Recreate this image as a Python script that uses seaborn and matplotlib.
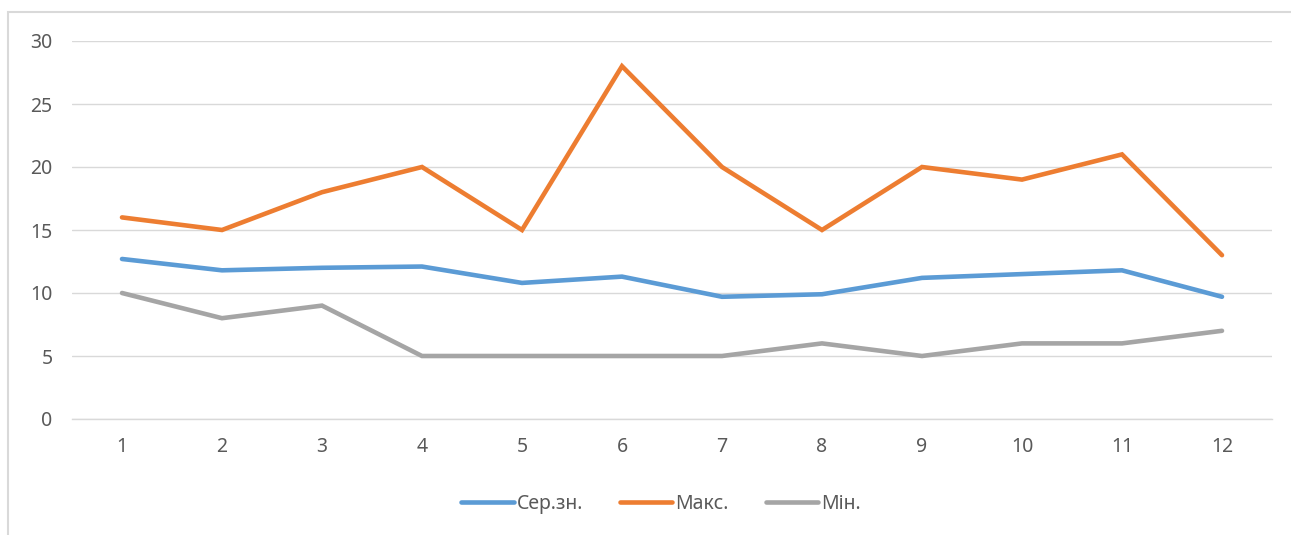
import matplotlib
matplotlib.use("Agg")
import matplotlib.pyplot as plt
from matplotlib.patches import Rectangle
import pandas as pd
import seaborn as sns

months = [1, 2, 3, 4, 5, 6, 7, 8, 9, 10, 11, 12]
avg_vals = [12.7, 11.8, 12.0, 12.1, 10.8, 11.3, 9.7, 9.9, 11.2, 11.5, 11.8, 9.7]
max_vals = [16, 15, 18, 20, 15, 28, 20, 15, 20, 19, 21, 13]
min_vals = [10, 8, 9, 5, 5, 5, 5, 6, 5, 6, 6, 7]
series_names = ["Сер.зн.", "Макс.", "Мін."]
colors = ["#5B9BD5", "#ED7D31", "#A5A5A5"]
y_ticks = [0, 5, 10, 15, 20, 25, 30]

df = pd.concat([
    pd.DataFrame({"month": months, "value": vals, "series": name})
    for name, vals in zip(series_names, [avg_vals, max_vals, min_vals])
])

sns.set_theme(style="white")
plt.rcParams["font.family"] = ["Noto Sans", "DejaVu Sans"]

W, H = 1291, 535
LW = 3.3
fig = plt.figure(figsize=(W / 100, H / 100), dpi=100)
ax = fig.add_axes([72 / W, (H - 419) / H, 1200 / W, 378 / H])

sns.lineplot(data=df, x="month", y="value", hue="series", hue_order=series_names,
             palette=colors, linewidth=LW, ax=ax, legend=False,
             solid_capstyle="round", solid_joinstyle="miter")

ax.set_xlim(0.5, 12.5)
ax.set_ylim(0, 30)
ax.set_xticks(months)
ax.set_xticklabels([str(m) for m in months])
ax.set_yticks(y_ticks)
ax.yaxis.grid(True, color="#d9d9d9", linewidth=1.0)
ax.set_axisbelow(True)
for s in ax.spines.values():
    s.set_visible(False)
ax.spines["bottom"].set_visible(True)
ax.spines["bottom"].set_color("#d9d9d9")
ax.spines["bottom"].set_linewidth(1.0)
ax.tick_params(axis="both", length=0, labelsize=14, colors="#595959")
ax.tick_params(axis="y", pad=14)
ax.tick_params(axis="x", pad=13)
ax.set_xlabel("")
ax.set_ylabel("")

handles = [plt.Line2D([0], [0], color=c, lw=LW, solid_capstyle="round") for c in colors]
fig.legend(handles, series_names, loc="center", bbox_to_anchor=(661 / W, 1 - 504 / H),
           ncol=3, frameon=False, fontsize=14, handlelength=2.7, handletextpad=0.15,
           columnspacing=1.9, labelcolor="#595959")

fig.patches.append(Rectangle((8 / W, -0.1), 1.2, (H - 12) / H + 0.1,
                             transform=fig.transFigure, fill=False,
                             edgecolor="#d9d9d9", linewidth=1.5))

fig.savefig("out.png", dpi=100, facecolor="white")
